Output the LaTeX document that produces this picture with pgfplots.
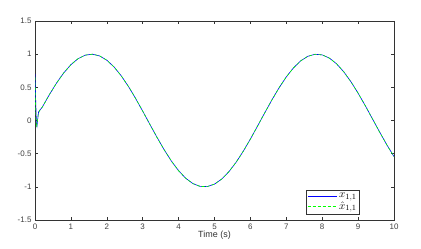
\documentclass[border=0pt]{standalone}
\usepackage{fontspec}
\setmainfont{Liberation Sans}
\usepackage{pgfplots}
\pgfplotsset{compat=1.18}
\begin{document}
\begin{tikzpicture}
\begin{axis}[
  scale only axis, width=359bp, height=199bp,
  xmin=0, xmax=10, ymin=-1.5, ymax=1.5,
  xtick={0,1,...,10}, ytick={-1.5,-1,-0.5,0,0.5,1,1.5},
  yticklabels={-1.5,-1,-0.5,0,0.5,1,1.5},
  tick align=inside, major tick length=3bp,
  axis line style={draw=black!80, line width=0.5pt},
  every tick/.style={draw=black!80, line width=0.5pt},
  tick label style={font=\fontsize{8}{9}\selectfont, text=black!75},
  /pgf/number format/assume math mode=true,
  xlabel={Time (s)}, xlabel style={font=\fontsize{9}{10}\selectfont, text=black!80, yshift=5bp},
  legend image code/.code={\draw[#1, line width=0.8pt] (0bp,0bp) -- (29bp,0bp);},
  legend style={at={(rel axis cs:0.905,0.03)}, anchor=south east, font=\fontsize{11}{12}\selectfont, draw=black!80, inner sep=1pt, row sep=-1.5pt, legend cell align=left},
  clip=true,
]
\addplot[color=blue, draw=blue, line width=0.6pt] coordinates {
(0,0.70) (0.02,0.3) (0.04,-0.05) (0.055,-0.09) (0.075,0.02) (0.10,0.13) (0.14,0.16)
(0.2,0.1987) (0.4,0.3894) (0.6,0.5646) (0.8,0.7174) (1.0,0.8415) (1.2,0.9320) (1.4,0.9854)
(1.6,0.9996) (1.8,0.9738) (2.0,0.9093) (2.2,0.8085) (2.4,0.6755) (2.6,0.5155) (2.8,0.3350)
(3.0,0.1411) (3.2,-0.0584) (3.4,-0.2555) (3.6,-0.4425) (3.8,-0.6119) (4.0,-0.7568) (4.2,-0.8716)
(4.4,-0.9516) (4.6,-0.9937) (4.8,-0.9962) (5.0,-0.9589) (5.2,-0.8835) (5.4,-0.7728) (5.6,-0.6313)
(5.8,-0.4646) (6.0,-0.2794) (6.2,-0.0831) (6.4,0.1165) (6.6,0.3115) (6.8,0.4941) (7.0,0.6570)
(7.2,0.7937) (7.4,0.8987) (7.6,0.9679) (7.8,0.9985) (8.0,0.9894) (8.2,0.9407) (8.4,0.8546)
(8.6,0.7344) (8.8,0.5849) (9.0,0.4121) (9.2,0.2229) (9.4,0.0248) (9.6,-0.1743) (9.8,-0.3665)
(10.0,-0.5440)
};
\addlegendentry{$x_{1,1}$}
\addplot[color=green, draw=green, line width=0.6pt, dash pattern=on 3pt off 2pt] coordinates {
(0,0.65) (0.015,0.25) (0.03,-0.02) (0.045,-0.10) (0.065,-0.02) (0.09,0.10) (0.13,0.15)
(0.2,0.1987) (0.4,0.3894) (0.6,0.5646) (0.8,0.7174) (1.0,0.8415) (1.2,0.9320) (1.4,0.9854)
(1.6,0.9996) (1.8,0.9738) (2.0,0.9093) (2.2,0.8085) (2.4,0.6755) (2.6,0.5155) (2.8,0.3350)
(3.0,0.1411) (3.2,-0.0584) (3.4,-0.2555) (3.6,-0.4425) (3.8,-0.6119) (4.0,-0.7568) (4.2,-0.8716)
(4.4,-0.9516) (4.6,-0.9937) (4.8,-0.9962) (5.0,-0.9589) (5.2,-0.8835) (5.4,-0.7728) (5.6,-0.6313)
(5.8,-0.4646) (6.0,-0.2794) (6.2,-0.0831) (6.4,0.1165) (6.6,0.3115) (6.8,0.4941) (7.0,0.6570)
(7.2,0.7937) (7.4,0.8987) (7.6,0.9679) (7.8,0.9985) (8.0,0.9894) (8.2,0.9407) (8.4,0.8546)
(8.6,0.7344) (8.8,0.5849) (9.0,0.4121) (9.2,0.2229) (9.4,0.0248) (9.6,-0.1743) (9.8,-0.3665)
(10.0,-0.5440)
};
\addlegendentry{$\hat{x}_{1,1}$}
\end{axis}
\path ([xshift=-35bp,yshift=-29bp]current axis.south west) rectangle ([xshift=27bp,yshift=21bp]current axis.north east);
\end{tikzpicture}
\end{document}
